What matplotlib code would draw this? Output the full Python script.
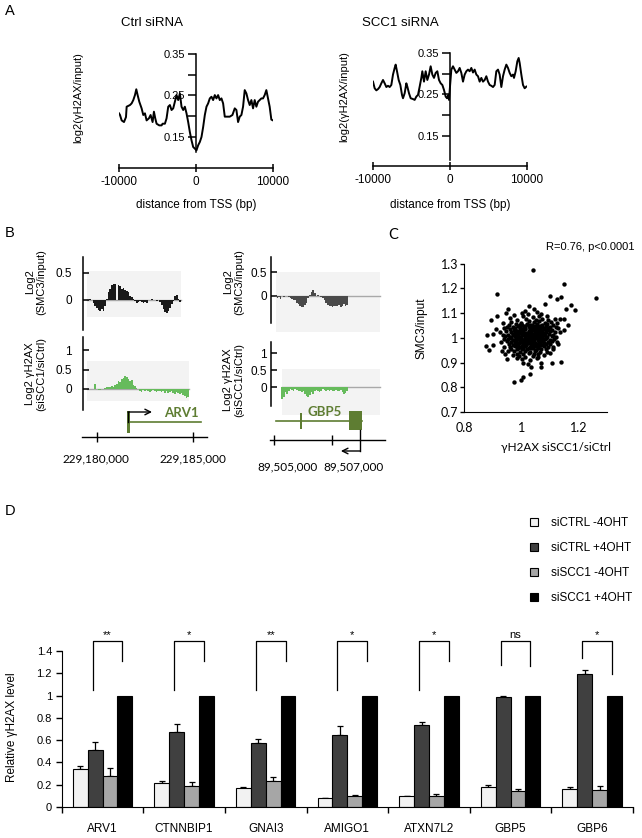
import numpy as np
import matplotlib
matplotlib.use("Agg")
import matplotlib.pyplot as plt
from matplotlib.patches import Rectangle

W, H = 642, 838
ARIAL = ['Liberation Sans', 'DejaVu Sans']
CALIBRI = ['Lato', 'DejaVu Sans']
plt.rcParams['font.family'] = ARIAL

# ---------------- panel A: log2(gH2AX/input) around TSS (bp, value)
ctrl_profile = [(-10000, 0.207), (-9870, 0.203), (-9654, 0.19), (-9352, 0.186), (-9093, 0.198),
                (-9006, 0.223), (-8575, 0.227), (-8359, 0.231), (-8143, 0.239), (-7927, 0.251),
                (-7754, 0.265), (-7581, 0.251), (-7365, 0.235), (-7063, 0.219), (-6847, 0.203),
                (-6631, 0.207), (-6415, 0.19), (-6112, 0.195), (-5896, 0.203), (-5637, 0.186),
                (-5464, 0.211), (-5292, 0.195), (-5119, 0.182), (-4773, 0.178), (-4471, 0.178),
                (-4341, 0.182), (-4039, 0.182), (-3823, 0.195), (-3607, 0.223), (-3391, 0.227),
                (-3175, 0.215), (-2959, 0.219), (-2743, 0.235), (-2527, 0.251), (-2311, 0.239),
                (-2095, 0.255), (-1879, 0.223), (-1663, 0.215), (-1447, 0.223), (-1231, 0.207),
                (-1015, 0.186), (-799, 0.162), (-583, 0.142), (-367, 0.126), (-151, 0.122),
                (65, 0.118), (281, 0.13), (497, 0.138), (713, 0.15), (929, 0.174), (1145, 0.203),
                (1361, 0.223), (1577, 0.231), (1793, 0.243), (2009, 0.247), (2225, 0.239),
                (2441, 0.251), (2657, 0.243), (2873, 0.251), (3089, 0.239), (3305, 0.243),
                (3521, 0.231), (3737, 0.199), (3952, 0.199), (4384, 0.199), (4730, 0.203),
                (5032, 0.219), (5248, 0.215), (5464, 0.186), (5680, 0.199), (5896, 0.203),
                (6112, 0.223), (6328, 0.263), (6544, 0.255), (6760, 0.239), (6976, 0.227),
                (7192, 0.239), (7408, 0.219), (7624, 0.239), (7840, 0.223), (8056, 0.235),
                (8272, 0.239), (8488, 0.243), (8704, 0.243), (8920, 0.251), (9136, 0.263),
                (9352, 0.243), (9568, 0.223), (9784, 0.192), (10000, 0.19)]

scc1_profile = [(-10000, 0.281), (-9784, 0.265), (-9567, 0.26), (-9351, 0.263), (-9134, 0.268),
                (-8918, 0.277), (-8701, 0.285), (-8485, 0.277), (-8268, 0.268), (-8052, 0.271),
                (-7835, 0.268), (-7619, 0.273), (-7403, 0.298), (-7186, 0.314), (-7056, 0.322),
                (-6883, 0.306), (-6667, 0.285), (-6450, 0.273), (-6234, 0.249), (-6104, 0.241),
                (-5887, 0.253), (-5671, 0.277), (-5541, 0.269), (-5325, 0.253), (-5108, 0.241),
                (-4805, 0.239), (-4589, 0.237), (-4372, 0.245), (-4156, 0.249), (-3939, 0.269),
                (-3723, 0.29), (-3593, 0.306), (-3377, 0.281), (-3160, 0.306), (-2944, 0.285),
                (-2727, 0.298), (-2511, 0.318), (-2294, 0.298), (-2078, 0.29), (-1861, 0.302),
                (-1645, 0.306), (-1429, 0.285), (-1212, 0.277), (-996, 0.273), (-779, 0.261),
                (-563, 0.245), (-390, 0.241), (-216, 0.249), (-130, 0.237), (0, 0.269),
                (173, 0.31), (390, 0.318), (606, 0.31), (823, 0.302), (1039, 0.306), (1255, 0.314),
                (1472, 0.302), (1688, 0.281), (1905, 0.298), (2121, 0.306), (2338, 0.31),
                (2554, 0.306), (2771, 0.314), (2987, 0.303), (3203, 0.31), (3420, 0.298),
                (3636, 0.294), (3853, 0.281), (4069, 0.29), (4286, 0.281), (4502, 0.285),
                (4719, 0.294), (4935, 0.281), (5152, 0.273), (5368, 0.271), (5584, 0.268),
                (5801, 0.273), (6017, 0.306), (6234, 0.31), (6450, 0.298), (6667, 0.268),
                (6883, 0.294), (7100, 0.31), (7316, 0.322), (7532, 0.314), (7749, 0.302),
                (7965, 0.294), (8182, 0.298), (8312, 0.29), (8528, 0.306), (8745, 0.33),
                (8918, 0.338), (9048, 0.326), (9264, 0.298), (9481, 0.273), (9697, 0.265),
                (9913, 0.269)]

# ---------------- panel B: genome browser tracks (log2 ratios along the window)
arv1_smc3 = [0, 0, 0.01, 0, -0.05, -0.12, -0.15, -0.18, -0.2, -0.17, -0.2, -0.12, 0.02, 0.15,
             0.2, 0.28, 0.3, 0.3, 0.0, 0.28, 0.25, 0.2, 0.22, 0.18, 0.17, 0.15, 0.08, 0.05, 0.02,
             -0.02, -0.06, -0.03, -0.01, -0.04, -0.05, -0.03, -0.05, 0.0, 0.0, 0.01, 0.0, 0.0,
             -0.02, 0.0, -0.04, -0.1, -0.16, -0.22, -0.25, -0.2, -0.15, -0.08, -0.02, 0.08, 0.1,
             0.02, -0.03]
arv1_h2ax = [0, 0, 0, 0, 0, 0.12, -0.01, -0.02, -0.02, -0.01, 0.01, 0.03, 0.05, 0.04, 0.06,
             0.08, 0.05, 0.1, 0.12, 0.2, 0.18, 0.25, 0.28, 0.33, 0.3, 0.25, 0.2, 0.22, 0.1, 0.08,
             0.03, 0.0, -0.05, -0.08, -0.03, -0.06, -0.02, -0.04, -0.07, -0.05, -0.03, -0.06,
             -0.08, -0.05, -0.04, -0.07, -0.06, -0.09, -0.05, -0.1, -0.08, -0.06, -0.1, -0.12,
             -0.08, -0.1, -0.12, -0.1, -0.15, -0.18, -0.22, -0.2]
gbp5_smc3 = [-0.02, -0.05, -0.03, -0.06, 0.0, -0.02, 0.0, -0.01, -0.02, -0.05, -0.08, -0.1,
             -0.1, -0.15, -0.18, -0.22, -0.24, -0.25, -0.2, -0.15, -0.05, 0.02, 0.08, 0.12, 0.05,
             -0.01, 0.02, 0.0, -0.02, -0.05, -0.1, -0.15, -0.2, -0.22, -0.22, -0.24, -0.22,
             -0.23, -0.22, -0.2, -0.24, -0.22, -0.18, -0.22, -0.2]
gbp5_h2ax = [-0.35, -0.3, -0.15, -0.2, -0.1, -0.05, -0.08, -0.1, -0.05, -0.08, -0.12, -0.1,
             -0.15, -0.12, -0.2, -0.25, -0.3, -0.22, -0.15, -0.2, -0.1, -0.08, -0.12, -0.15,
             -0.1, -0.05, -0.08, -0.12, -0.08, -0.1, -0.08, -0.12, -0.1, -0.08, -0.1, -0.12,
             -0.08, -0.15, -0.2, -0.18, -0.1]

# gene models (hg19 coordinates)
arv1_window = (229179219, 229185729)
arv1_ticks = [229180000, 229185000]
arv1_tss = 229181615
arv1_exon1 = (229181570, 229181720)
arv1_end = 229185400
gbp5_window = (89504862, 89508828)
gbp5_ticks = [89505000, 89507000]
gbp5_tss = 89507966
gbp5_start = 89505069
gbp5_exon_small = (89505890, 89505970)
gbp5_exon_big = (89507586, 89508034)

# ---------------- panel C: scatter (gH2AX siSCC1/siCtrl, SMC3/input)
c_h2ax = [1.043, 1.148, 1.263, 0.914, 1.099, 1.126, 1.139, 1.084, 1.029, 1.173, 1.187, 1.156,
          0.953, 0.946, 0.914, 0.895, 1.135, 1.150, 1.164, 1.003, 1.054, 0.912, 0.940, 1.135,
          1.149, 0.879, 0.902, 0.937, 0.876, 0.900, 0.887, 0.932, 0.944, 0.951, 0.987, 1.007,
          1.024, 1.033, 1.068, 1.068, 1.106, 1.138, 1.032, 1.005, 0.998, 0.976, 1.054, 1.089,
          1.112, 1.129,
          1.005, 1.040, 1.062, 0.985, 1.018, 1.050, 1.072, 1.095, 0.965, 0.998, 1.028, 1.045,
          1.062, 1.083, 1.104, 0.958, 0.982, 1.003, 1.020, 1.038, 1.055, 1.072, 1.090, 1.112,
          0.952, 0.972, 0.990, 1.010, 1.026, 1.040, 1.057, 1.070, 1.085, 1.102, 1.120, 0.962,
          0.980, 0.998, 1.015, 1.032, 1.048, 1.063, 1.078, 1.094, 1.108, 0.948, 0.966, 0.985,
          1.002, 1.020, 1.036, 1.052, 1.068, 1.086, 1.100, 1.117, 0.955, 0.972, 0.990, 1.007,
          1.024, 1.040, 1.056, 1.066, 1.080, 1.096, 1.112, 0.944, 0.960, 0.978, 0.995, 1.012,
          1.028, 1.044, 1.058, 1.073, 1.090, 1.106, 1.122, 0.940, 0.955, 0.973, 0.990, 1.006,
          1.022, 1.037, 1.052, 1.066, 1.082, 1.100, 1.115, 0.950, 0.966, 0.982, 1.000, 1.016,
          1.030, 1.046, 1.062, 1.077, 1.092, 1.108, 0.957, 0.972, 0.990, 1.006, 1.022, 1.040,
          1.056, 1.070, 1.086, 1.100, 0.962, 0.978, 0.996, 1.012, 1.030, 1.045, 1.060, 1.080,
          1.095, 0.966, 0.986, 1.002, 1.020, 1.035, 1.050, 1.068, 1.088, 0.975, 0.995, 1.015,
          1.030, 1.048, 1.065, 0.985, 1.005, 1.028, 1.045, 1.060, 0.992, 1.012, 1.040, 1.058,
          1.003, 1.030,
          0.975, 1.025, 1.070, 0.935, 0.925, 0.930, 0.940, 1.125, 1.130, 1.125, 1.110, 1.100,
          0.970, 1.015, 1.045, 0.960, 1.090, 1.080, 0.955, 1.118,
          0.995, 1.012, 1.030, 1.047, 1.064, 0.980, 0.997, 1.014, 1.031, 1.049, 1.066, 1.080,
          0.975, 0.992, 1.008, 1.026, 1.043, 1.058, 1.074, 1.090, 0.978, 0.996, 1.013, 1.030,
          1.047, 1.061, 1.076, 0.970, 0.987, 1.003, 1.019, 1.034, 1.050, 1.064, 1.082, 0.966,
          0.983, 0.998, 1.014, 1.030, 1.042, 1.058, 1.073, 1.088, 0.980, 0.996, 1.011, 1.026,
          1.041, 1.057, 1.072, 0.977, 0.993, 1.009, 1.025, 1.033, 1.049, 1.065, 1.080, 0.985,
          1.002, 1.018, 1.036, 1.052, 1.067, 0.990, 1.008, 1.026, 1.043, 1.058]
c_smc3 = [1.274, 1.218, 1.161, 1.179, 1.170, 1.157, 1.165, 1.137, 1.130, 1.134, 1.111, 1.118,
          1.118, 1.100, 1.087, 1.071, 1.076, 1.076, 1.053, 1.100, 1.104, 1.037, 1.040, 1.023,
          1.033, 1.013, 1.015, 1.013, 0.969, 0.972, 0.949, 0.948, 0.936, 0.915, 0.918, 0.898,
          0.894, 0.884, 0.898, 0.882, 0.898, 0.902, 0.855, 0.840, 0.828, 0.821, 0.918, 0.942,
          0.965, 0.975,
          1.087, 1.083, 1.089, 1.074, 1.078, 1.072, 1.077, 1.073, 1.066, 1.062, 1.068, 1.063,
          1.067, 1.061, 1.066, 1.054, 1.057, 1.052, 1.058, 1.053, 1.056, 1.051, 1.057, 1.054,
          1.046, 1.043, 1.047, 1.044, 1.048, 1.042, 1.046, 1.043, 1.048, 1.044, 1.046, 1.036,
          1.033, 1.037, 1.034, 1.038, 1.032, 1.036, 1.034, 1.038, 1.033, 1.026, 1.022, 1.027,
          1.024, 1.021, 1.027, 1.023, 1.026, 1.022, 1.027, 1.024, 1.013, 1.017, 1.014, 1.016,
          1.012, 1.017, 1.014, 1.018, 1.013, 1.016, 1.012, 1.006, 1.003, 1.007, 1.004, 1.008,
          1.002, 1.006, 1.003, 1.007, 1.004, 1.006, 1.002, 0.994, 0.997, 0.993, 0.996, 0.992,
          0.997, 0.994, 0.998, 0.993, 0.996, 0.992, 0.997, 0.986, 0.983, 0.987, 0.984, 0.988,
          0.982, 0.986, 0.983, 0.987, 0.984, 0.986, 0.976, 0.973, 0.977, 0.974, 0.978, 0.972,
          0.976, 0.973, 0.977, 0.974, 0.964, 0.967, 0.963, 0.966, 0.962, 0.967, 0.964, 0.966,
          0.962, 0.956, 0.953, 0.957, 0.954, 0.958, 0.952, 0.956, 0.953, 0.946, 0.943, 0.947,
          0.944, 0.946, 0.942, 0.936, 0.933, 0.937, 0.934, 0.936, 0.926, 0.923, 0.927, 0.924,
          0.915, 0.912,
          1.094, 1.097, 1.096, 1.060, 1.025, 0.985, 0.962, 1.060, 1.040, 0.985, 0.955, 0.940,
          0.930, 1.110, 1.115, 1.080, 1.090, 0.930, 0.945, 1.075,
          1.051, 1.049, 1.052, 1.048, 1.050, 1.041, 1.039, 1.042, 1.040, 1.038, 1.041, 1.039,
          1.030, 1.029, 1.031, 1.028, 1.030, 1.031, 1.029, 1.030, 1.020, 1.019, 1.021, 1.020,
          1.018, 1.021, 1.019, 1.010, 1.009, 1.011, 1.010, 1.008, 1.011, 1.009, 1.010, 1.000,
          0.999, 1.001, 1.000, 0.998, 1.001, 0.999, 1.000, 1.001, 0.990, 0.989, 0.991, 0.990,
          0.988, 0.991, 0.989, 0.980, 0.979, 0.981, 0.980, 0.978, 0.981, 0.979, 0.980, 0.970,
          0.969, 0.971, 0.970, 0.968, 0.971, 0.960, 0.959, 0.961, 0.960, 0.958]

# ---------------- panel D: relative gH2AX level (ChIP-qPCR)
genes = ['ARV1', 'CTNNBIP1', 'GNAI3', 'AMIGO1', 'ATXN7L2', 'GBP5', 'GBP6']
conditions = ['siCTRL -4OHT', 'siCTRL +4OHT', 'siSCC1 -4OHT', 'siSCC1 +4OHT']
ctrl_minus = [0.341, 0.211, 0.170, 0.080, 0.098, 0.180, 0.164]
ctrl_minus_err = [0.027, 0.021, 0.007, 0.003, 0.004, 0.014, 0.016]
ctrl_plus = [0.511, 0.670, 0.575, 0.648, 0.734, 0.989, 1.193]
ctrl_plus_err = [0.075, 0.073, 0.034, 0.080, 0.032, 0.012, 0.041]
scc1_minus = [0.277, 0.193, 0.234, 0.098, 0.102, 0.145, 0.152]
scc1_minus_err = [0.070, 0.032, 0.034, 0.009, 0.012, 0.019, 0.034]
scc1_plus = [1, 1, 1, 1, 1, 1, 1]
significance = ['**', '*', '**', '*', '*', 'ns', '*']
bracket_left = [1.05, 1.05, 1.05, 1.05, 1.05, 1.277, 1.34]
bracket_right = [1.31, 1.31, 1.31, 1.31, 1.31, 1.268, 1.19]

fig = plt.figure(figsize=(W / 100, H / 100), dpi=100)


def px_axes(x0, y0, x1, y1):
    return fig.add_axes([x0 / W, 1 - y1 / H, (x1 - x0) / W, (y1 - y0) / H])


def px_text(x, y, s, **kw):
    kw.setdefault('ha', 'center')
    kw.setdefault('va', 'center')
    return fig.text(x / W, 1 - y / H, s, **kw)


# ================= A
def tss_profile(box, profile, ylim, spine_bottom):
    ax = px_axes(*box)
    pos, val = np.array(profile).T
    ax.plot(pos, val, color='black', lw=1.4)
    ax.set_xlim(-10000, 10000)
    ax.set_ylim(*ylim)
    ax.spines[['top', 'right']].set_visible(False)
    ax.spines['left'].set_position(('data', 0))
    ax.spines['left'].set_bounds(spine_bottom, 0.35)
    ax.spines['left'].set_linewidth(1.1)
    ax.spines['bottom'].set_linewidth(1.1)
    ax.set_yticks([0.15, 0.20, 0.25, 0.30, 0.35])
    ax.set_yticklabels(['0.15', '', '0.25', '', '0.35'])
    ax.set_xticks([-10000, 0, 10000])
    ax.set_xticklabels(['-10000', '0', '10000'])
    ax.tick_params(axis='y', direction='out', length=5.5, width=1.1, pad=2.5, labelsize=8)
    ax.tick_params(axis='x', direction='inout', length=6, width=1.1, pad=3, labelsize=8.5)
    ax.patch.set_visible(False)
    return ax


tss_profile((119, 50, 273, 168), ctrl_profile, (0.35 - 114 / 415, 0.35 + 4 / 415), 0.115)
tss_profile((373, 50, 527, 166), scc1_profile, (0.35 - 113 / 415, 0.35 + 3 / 415), 0.092)
px_text(10, 11, 'A', fontsize=10.5)
px_text(152, 23, 'Ctrl siRNA', fontsize=9.5)
px_text(400, 23, 'SCC1 siRNA', fontsize=9.5)
px_text(78, 98, 'log2(γH2AX/input)', rotation=90, fontsize=8)
px_text(344, 97, 'log2(γH2AX/input)', rotation=90, fontsize=8)
px_text(196, 205, 'distance from TSS (bp)', fontsize=8.5)
px_text(450, 205, 'distance from TSS (bp)', fontsize=8.5)


# ================= B
def track(box, values, bar_x, bg_x, bg_y, ylim, spine_lim, yticks, color, pad):
    ax = px_axes(*box)
    ax.set_xlim(box[0], box[2])
    ax.set_ylim(*ylim)
    ax.add_patch(Rectangle((bg_x[0], bg_y[0]), bg_x[1] - bg_x[0], bg_y[1] - bg_y[0],
                           facecolor='#f3f3f3', edgecolor='none', zorder=0))
    ax.plot(bg_x, [0, 0], color='#a8a8a8', lw=1.0, zorder=1)
    xs = np.linspace(bar_x[0], bar_x[1], len(values))
    ax.bar(xs, values, width=(bar_x[1] - bar_x[0]) / (len(values) - 1),
           color=color, lw=0, zorder=2)
    ax.spines[['top', 'right', 'bottom']].set_visible(False)
    ax.spines['left'].set_bounds(*spine_lim)
    ax.spines['left'].set_linewidth(1.1)
    ax.set_xticks([])
    ax.set_yticks(yticks)
    ax.set_yticklabels(['%g' % t for t in yticks])
    ax.tick_params(axis='y', direction='in', length=4, width=1.1, pad=pad, labelsize=8.5)
    ax.patch.set_visible(False)
    return ax


track((83, 255, 190, 332), arv1_smc3, (86.7, 180), (87, 181), (-0.315, 0.537),
      (-0.593, 0.833), (-0.556, 0.796), [0, 0.5], '#1a1a1a', 8)
track((83, 335, 192, 412), arv1_h2ax, (86.7, 188.3), (87, 189), (-0.308, 0.718),
      (-0.59, 1.385), (-0.538, 1.333), [0, 0.5, 1], '#66bb5c', 8)
track((271, 255, 385, 335), gbp5_smc3, (275.7, 347.3), (276, 380), (-0.776, 0.5),
      (-0.84, 0.87), (-0.583, 0.827), [0, 0.5], '#4a4a4a', 3)
track((271, 340, 385, 418), gbp5_h2ax, (282.3, 347.3), (282, 380), (-0.815, 0.538),
      (-0.903, 1.391), (-0.55, 1.332), [0, 0.5, 1], '#66bb5c', 3)

px_text(10, 233, 'B', fontsize=10.5)
for x in (36, 234):
    px_text(x, 282, 'Log2\n(SMC3/input)', rotation=90, fontsize=8, linespacing=1.15)
px_text(36, 374, 'Log2 γH2AX\n(siSCC1/siCtrl)', rotation=90, fontsize=8, linespacing=1.15)
px_text(234, 380, 'Log2 γH2AX\n(siSCC1/siCtrl)', rotation=90, fontsize=8, linespacing=1.15)

OLIVE = '#5e7d32'


def coord_axis(ax, window, ticks, label_x, label_y):
    ax.set_xlim(*window)
    ax.spines[['top', 'right', 'left']].set_visible(False)
    ax.spines['bottom'].set_linewidth(1.0)
    ax.set_yticks([])
    ax.set_xticks(ticks)
    ax.set_xticklabels([])
    ax.tick_params(axis='x', direction='inout', length=7, width=1.0)
    ax.patch.set_visible(False)
    for t, lx in zip(ticks, label_x):
        px_text(lx, label_y, '{:,}'.format(t), family=CALIBRI, fontsize=8.5)


# ARV1 (plus strand); y is pixels above the coordinate line
axg1 = px_axes(82, 405, 207, 437)
axg1.set_ylim(0, 32)
coord_axis(axg1, arv1_window, arv1_ticks, (96, 193), 459)
axg1.plot([arv1_tss, arv1_end], [15, 15], color=OLIVE, lw=1.2)
axg1.add_patch(Rectangle((arv1_exon1[0], 4), arv1_exon1[1] - arv1_exon1[0], 22,
                         facecolor=OLIVE, edgecolor='none'))
axg1.plot([arv1_tss, arv1_tss], [15, 25], color='black', lw=1.0)
axg1.annotate('', xy=(arv1_tss + 1250, 25), xytext=(arv1_tss, 25),
              arrowprops=dict(arrowstyle='->', color='black', lw=1.0, shrinkA=0, shrinkB=0,
                              mutation_scale=10))
axg1.text(229184375, 24, 'ARV1', ha='center', va='center', color=OLIVE, fontsize=9.5,
          fontweight='bold', family=CALIBRI)

# GBP5 (minus strand)
axg2 = px_axes(270, 400, 385, 460)
axg2.set_ylim(-20, 40)
coord_axis(axg2, gbp5_window, gbp5_ticks, (287, 354), 467)
axg2.spines['bottom'].set_position(('data', 0))
axg2.plot([gbp5_start, gbp5_exon_big[1]], [19, 19], color=OLIVE, lw=1.2)
axg2.add_patch(Rectangle((gbp5_exon_small[0], 11), gbp5_exon_small[1] - gbp5_exon_small[0], 16,
                         facecolor=OLIVE, edgecolor='none'))
axg2.add_patch(Rectangle((gbp5_exon_big[0], 10), gbp5_exon_big[1] - gbp5_exon_big[0], 19,
                         facecolor=OLIVE, edgecolor='none'))
axg2.plot([gbp5_tss, gbp5_tss], [10, -11], color='black', lw=1.0)
axg2.annotate('', xy=(gbp5_tss - 660, -11), xytext=(gbp5_tss, -11),
              arrowprops=dict(arrowstyle='->', color='black', lw=1.0, shrinkA=0, shrinkB=0,
                              mutation_scale=10))
axg2.text(89506759, 28, 'GBP5', ha='center', va='center', color=OLIVE, fontsize=9.5,
          fontweight='bold', family=CALIBRI)

# ================= C
axC = px_axes(464, 261.3, 607, 412)
axC.scatter(c_h2ax, c_smc3, s=10, color='black', linewidths=0, clip_on=False)
axC.set_xlim(0.8, 1.3)
axC.set_ylim(0.7, 1.31)
axC.spines[['top', 'right']].set_visible(False)
axC.spines['left'].set_bounds(0.7, 1.3)
axC.set_yticks([0.7, 0.8, 0.9, 1.0, 1.1, 1.2, 1.3])
axC.set_yticklabels(['0.7', '0.8', '0.9', '1', '1.1', '1.2', '1.3'], family=CALIBRI)
axC.set_xticks([0.8, 1.0, 1.2])
axC.set_xticklabels(['0.8', '1', '1.2'], family=CALIBRI)
axC.tick_params(axis='y', direction='out', length=3, width=1.0, pad=1, labelsize=9)
axC.tick_params(axis='x', length=0, pad=7, labelsize=9)
axC.patch.set_visible(False)
px_text(393, 235, 'C', fontsize=10.5, family=CALIBRI)
px_text(590, 247, 'R=0.76, p<0.0001', fontsize=8)
px_text(422, 328, 'SMC3/input', rotation=90, fontsize=8.5)
px_text(556, 447, 'γH2AX siSCC1/siCtrl', fontsize=8.5, family=CALIBRI)

# ================= D
axD = px_axes(61.7, 628.8, 633, 807)
n = len(genes)
centers = np.arange(n) + 0.5
bw = 0.182
series = [(ctrl_minus, ctrl_minus_err, '#f2f2f2'),
          (ctrl_plus, ctrl_plus_err, '#404040'),
          (scc1_minus, scc1_minus_err, '#a6a6a6'),
          (scc1_plus, None, '#000000')]
for k, (vals, errs, color) in enumerate(series):
    xs = centers + (k - 1.5) * bw
    axD.bar(xs, vals, bw, color=color, edgecolor='black', lw=0.8, label=conditions[k], zorder=2)
    if errs is not None:
        axD.errorbar(xs, vals, yerr=[np.zeros(n), errs], fmt='none', ecolor='black',
                     elinewidth=0.9, capsize=2.5, capthick=0.9, zorder=1)

top = 1.49
for i in range(n):
    xl = centers[i] - 0.5 * bw - 0.03
    xr = centers[i] + 1.5 * bw - 0.03
    axD.plot([xl, xl, xr, xr], [bracket_left[i], top, top, bracket_right[i]],
             color='black', lw=0.9, clip_on=False)
    axD.text((xl + xr) / 2, top + 0.005, significance[i], ha='center', va='bottom', fontsize=8)

axD.set_xlim(0, n)
axD.set_ylim(0, 1.6)
axD.spines[['top', 'right']].set_visible(False)
axD.spines['left'].set_bounds(0, 1.4)
axD.set_yticks([0, 0.2, 0.4, 0.6, 0.8, 1.0, 1.2, 1.4])
axD.set_yticklabels(['0', '0.2', '0.4', '0.6', '0.8', '1', '1.2', '1.4'])
axD.tick_params(axis='y', direction='out', length=4, width=1.0, pad=3, labelsize=8)
axD.set_xticks(np.arange(n + 1))
axD.set_xticklabels([])
axD.set_xticks(centers, minor=True)
axD.set_xticklabels(genes, minor=True)
axD.tick_params(axis='x', which='major', direction='out', length=4, width=1.0)
axD.tick_params(axis='x', which='minor', length=0, pad=11.5, labelsize=8.5)
axD.patch.set_visible(False)
axD.legend(loc='upper left', bbox_to_anchor=(530 / W, 1 - 517 / H),
           bbox_transform=fig.transFigure, frameon=False, fontsize=8.5,
           handlelength=0.7, handleheight=0.7, handletextpad=1.1, labelspacing=1.1,
           borderpad=0, borderaxespad=0)
px_text(10, 511, 'D', fontsize=10.5)
px_text(12, 727, 'Relative γH2AX level', rotation=90, fontsize=8.5)

fig.savefig('out.png', dpi=100)
